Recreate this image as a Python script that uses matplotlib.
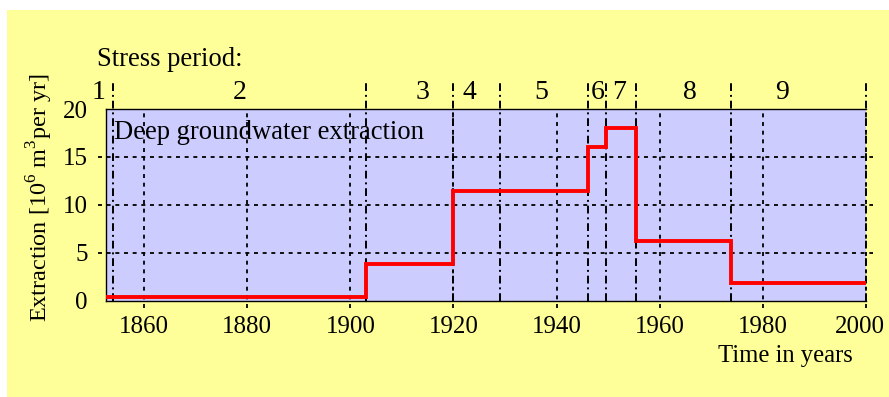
import matplotlib.pyplot as plt
import matplotlib.transforms as mtransforms
from matplotlib.patches import Rectangle

plt.rcParams['font.family'] = ['Liberation Serif', 'DejaVu Serif']
plt.rcParams['mathtext.fontset'] = 'custom'
plt.rcParams['mathtext.rm'] = 'Liberation Serif'
plt.rcParams['font.size'] = 17.5

# stress periods: start year and extraction rate (10^6 m3 per yr)
period_start = [1852.6, 1854, 1903, 1920, 1929, 1946, 1949.6, 1955.4, 1973.8]
extraction = [0.4, 0.4, 3.8, 11.4, 11.4, 16.0, 18.0, 6.2, 1.8]
period_end = 2000
period_names = ['1', '2', '3', '4', '5', '6', '7', '8', '9']
name_x = [1851.2, 1878.5, 1914, 1923, 1937, 1947.9, 1952.1, 1965.8, 1983.7]

xticks = [1860, 1880, 1900, 1920, 1940, 1960, 1980, 2000]
yticks = [0, 5, 10, 15, 20]

fig = plt.figure(figsize=(8.89, 3.97), dpi=100, facecolor='white')
fig.patches.append(Rectangle((7 / 889, 0), 1, 1 - 10 / 397, transform=fig.transFigure,
                             facecolor='#ffff99', edgecolor='none', zorder=-10))

ax = fig.add_axes([0.1192, 0.2426, 0.8549, 0.4828])
ax.set_facecolor('#ccccff')
ax.set_xlim(period_start[0], period_end)
ax.set_ylim(0, 20)
ax.spines['right'].set_visible(False)
for s in ['left', 'top', 'bottom']:
    ax.spines[s].set_linewidth(1.0)

ax.set_xticks(xticks)
ax.set_yticks(yticks)
ax.tick_params(axis='x', length=0, pad=11, labelsize=18)
ax.tick_params(axis='y', length=0, pad=13, labelsize=18)

# keep the last year label inside the figure
last = ax.get_xticklabels()[-1]
last.set_transform(last.get_transform() +
                   mtransforms.ScaledTranslation(-6 / 100, 0, fig.dpi_scale_trans))

# dotted grid, drawn slightly past the frame
for x in xticks:
    ax.axvline(x, ymin=-0.04, ymax=1, color='black', lw=1.3,
               linestyle=(0, (2.2, 2.6)), clip_on=False, zorder=1)
for y in yticks[1:-1]:
    ax.axhline(y, xmin=-0.011, xmax=1.009, color='black', lw=1.3,
               linestyle=(0, (2.2, 2.6)), clip_on=False, zorder=1)

# stress period boundaries
for b in period_start[1:] + [period_end]:
    ax.axvline(b, ymin=0, ymax=1.136, color='black', lw=1.4,
               linestyle=(0, (4, 2, 1, 2)), clip_on=False, zorder=2)
for name, x in zip(period_names, name_x):
    ax.text(x, 1.085, name, transform=ax.get_xaxis_transform(),
            ha='center', va='center', fontsize=20)

ax.step(period_start + [period_end], extraction + [extraction[-1]], where='post',
        color='red', lw=2.8, zorder=3, solid_joinstyle='miter')

ax.text(0.011, 0.88, 'Deep groundwater extraction', transform=ax.transAxes,
        ha='left', va='center', fontsize=19.2)
fig.text(97 / 889, 1 - 60 / 397, 'Stress period:', ha='left', va='center', fontsize=19.2)
fig.text(853 / 889, 1 - 356 / 397, 'Time in years', ha='right', va='center', fontsize=17.7)
fig.text(40 / 889, 1 - 198 / 397, r'Extraction [10$^6$ m$^3$per yr]',
         rotation=90, ha='center', va='center')

fig.savefig('out.png', dpi=100, facecolor=fig.get_facecolor())
